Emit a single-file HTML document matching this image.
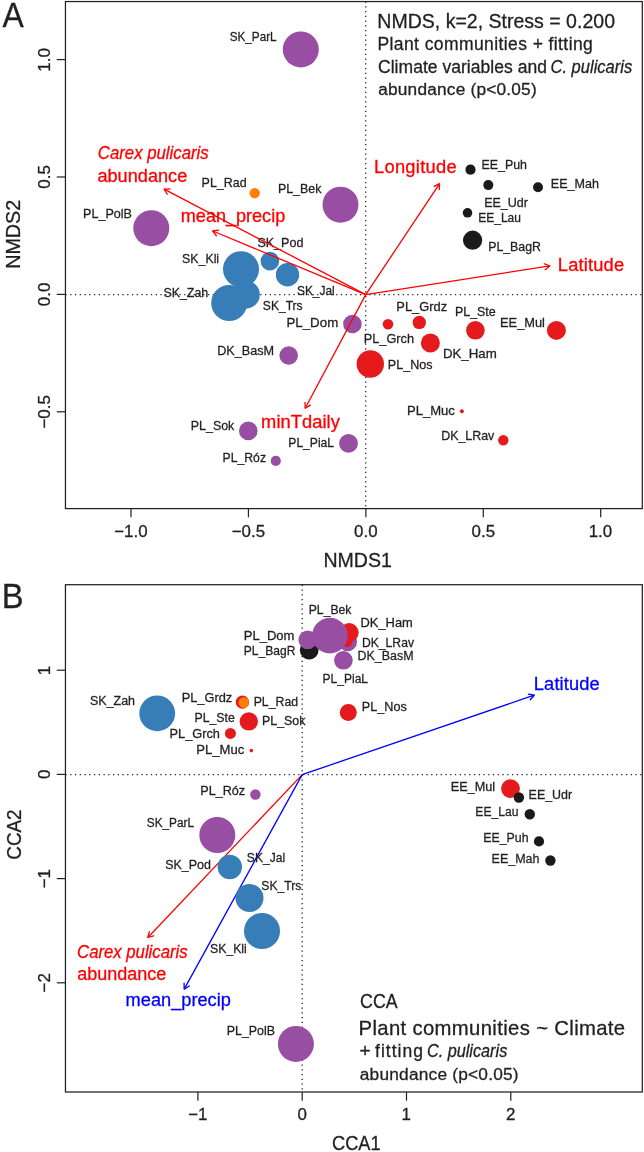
<!DOCTYPE html>
<html><head><meta charset="utf-8"><style>
html,body{margin:0;padding:0;background:#fff;}
svg{display:block;will-change:transform;}
text{font-family:"Liberation Sans",sans-serif;stroke-width:0.3px;}
</style></head><body>
<svg width="644" height="1152" viewBox="0 0 644 1152">
<rect width="644" height="1152" fill="#fff"/>
<line x1="365.7" y1="1.55" x2="365.7" y2="508.6" stroke="#222" stroke-width="1.3" stroke-dasharray="1.25 3.5"/>
<line x1="65.45" y1="294.6" x2="642.3" y2="294.6" stroke="#222" stroke-width="1.3" stroke-dasharray="1.25 3.5"/>
<circle cx="300.8" cy="49.4" r="18" fill="#984ea3"/>
<circle cx="254.7" cy="193.1" r="5.2" fill="#ff7f00"/>
<circle cx="340.5" cy="204.7" r="18" fill="#984ea3"/>
<circle cx="151.3" cy="228.2" r="18" fill="#984ea3"/>
<circle cx="245.8" cy="294.7" r="14" fill="#377eb8"/>
<circle cx="241.0" cy="269.2" r="18" fill="#377eb8"/>
<circle cx="229.2" cy="303.0" r="18" fill="#377eb8"/>
<circle cx="269.9" cy="261.1" r="9.3" fill="#377eb8"/>
<circle cx="287.5" cy="274.8" r="11.7" fill="#377eb8"/>
<circle cx="352.4" cy="324.0" r="9.3" fill="#984ea3"/>
<circle cx="288.7" cy="355.5" r="9.3" fill="#984ea3"/>
<circle cx="388.0" cy="324.3" r="5.3" fill="#e41a1c"/>
<circle cx="419.3" cy="322.4" r="6.7" fill="#e41a1c"/>
<circle cx="475.4" cy="330.3" r="9.3" fill="#e41a1c"/>
<circle cx="556.4" cy="330.4" r="9.5" fill="#e41a1c"/>
<circle cx="430.4" cy="343.0" r="9.5" fill="#e41a1c"/>
<circle cx="370.3" cy="364.0" r="13.7" fill="#e41a1c"/>
<circle cx="461.9" cy="411.2" r="2.0" fill="#e41a1c"/>
<circle cx="503.3" cy="440.3" r="5.2" fill="#e41a1c"/>
<circle cx="248.3" cy="430.9" r="9.3" fill="#984ea3"/>
<circle cx="348.5" cy="443.4" r="9.4" fill="#984ea3"/>
<circle cx="275.8" cy="460.9" r="5.1" fill="#984ea3"/>
<circle cx="470.5" cy="169.7" r="5.1" fill="#1a1a1a"/>
<circle cx="488.3" cy="185.1" r="5.0" fill="#1a1a1a"/>
<circle cx="538.0" cy="187.2" r="5.0" fill="#1a1a1a"/>
<circle cx="467.5" cy="212.8" r="4.8" fill="#1a1a1a"/>
<circle cx="472.6" cy="240.2" r="9.6" fill="#1a1a1a"/>
<text transform="translate(229.66,41.40) scale(0.8702,1)" font-size="13.5" fill="#231f20" stroke="#231f20" stroke-width="0.3">SK_ParL</text>
<text transform="translate(201.58,187.40) scale(0.9249,1)" font-size="13.5" fill="#231f20" stroke="#231f20" stroke-width="0.3">PL_Rad</text>
<text transform="translate(277.88,193.00) scale(0.9205,1)" font-size="13.5" fill="#231f20" stroke="#231f20" stroke-width="0.3">PL_Bek</text>
<text transform="translate(83.07,218.20) scale(0.9309,1)" font-size="13.5" fill="#231f20" stroke="#231f20" stroke-width="0.3">PL_PolB</text>
<text transform="translate(257.42,246.80) scale(0.9280,1)" font-size="13.5" fill="#231f20" stroke="#231f20" stroke-width="0.3">SK_Pod</text>
<text transform="translate(182.03,262.60) scale(0.9157,1)" font-size="13.5" fill="#231f20" stroke="#231f20" stroke-width="0.3">SK_Kli</text>
<text transform="translate(163.43,296.80) scale(0.9196,1)" font-size="13.5" fill="#231f20" stroke="#231f20" stroke-width="0.3">SK_Zah</text>
<text transform="translate(296.95,295.20) scale(0.8823,1)" font-size="13.5" fill="#231f20" stroke="#231f20" stroke-width="0.3">SK_Jal</text>
<text transform="translate(262.84,310.10) scale(0.8942,1)" font-size="13.5" fill="#231f20" stroke="#231f20" stroke-width="0.3">SK_Trs</text>
<text transform="translate(286.41,326.90) scale(0.9873,1)" font-size="13.5" fill="#231f20" stroke="#231f20" stroke-width="0.3">PL_Dom</text>
<text transform="translate(217.16,354.80) scale(0.9392,1)" font-size="13.5" fill="#231f20" stroke="#231f20" stroke-width="0.3">DK_BasM</text>
<text transform="translate(396.34,310.50) scale(0.9536,1)" font-size="13.5" fill="#231f20" stroke="#231f20" stroke-width="0.3">PL_Grdz</text>
<text transform="translate(454.98,315.60) scale(0.9206,1)" font-size="13.5" fill="#231f20" stroke="#231f20" stroke-width="0.3">PL_Ste</text>
<text transform="translate(363.75,342.70) scale(0.9454,1)" font-size="13.5" fill="#231f20" stroke="#231f20" stroke-width="0.3">PL_Grch</text>
<text transform="translate(442.91,358.30) scale(0.9851,1)" font-size="13.5" fill="#231f20" stroke="#231f20" stroke-width="0.3">DK_Ham</text>
<text transform="translate(387.87,369.40) scale(0.9302,1)" font-size="13.5" fill="#231f20" stroke="#231f20" stroke-width="0.3">PL_Nos</text>
<text transform="translate(500.05,326.60) scale(0.9519,1)" font-size="13.5" fill="#231f20" stroke="#231f20" stroke-width="0.3">EE_Mul</text>
<text transform="translate(406.93,415.00) scale(0.9696,1)" font-size="13.5" fill="#231f20" stroke="#231f20" stroke-width="0.3">PL_Muc</text>
<text transform="translate(441.18,440.40) scale(0.9202,1)" font-size="13.5" fill="#231f20" stroke="#231f20" stroke-width="0.3">DK_LRav</text>
<text transform="translate(190.78,430.00) scale(0.9205,1)" font-size="13.5" fill="#231f20" stroke="#231f20" stroke-width="0.3">PL_Sok</text>
<text transform="translate(288.31,447.40) scale(0.8971,1)" font-size="13.5" fill="#231f20" stroke="#231f20" stroke-width="0.3">PL_PiaL</text>
<text transform="translate(222.50,462.00) scale(0.9059,1)" font-size="13.5" fill="#231f20" stroke="#231f20" stroke-width="0.3">PL_Róz</text>
<text transform="translate(481.48,169.10) scale(0.9186,1)" font-size="13.5" fill="#231f20" stroke="#231f20" stroke-width="0.3">EE_Puh</text>
<text transform="translate(484.18,206.80) scale(0.9254,1)" font-size="13.5" fill="#231f20" stroke="#231f20" stroke-width="0.3">EE_Udr</text>
<text transform="translate(550.77,188.00) scale(0.9314,1)" font-size="13.5" fill="#231f20" stroke="#231f20" stroke-width="0.3">EE_Mah</text>
<text transform="translate(478.21,221.80) scale(0.8906,1)" font-size="13.5" fill="#231f20" stroke="#231f20" stroke-width="0.3">EE_Lau</text>
<text transform="translate(488.19,251.00) scale(0.9134,1)" font-size="13.5" fill="#231f20" stroke="#231f20" stroke-width="0.3">PL_BagR</text>
<line x1="365.7" y1="294.6" x2="164.1" y2="189.2" stroke="#ff0000" stroke-width="1.3"/>
<polyline points="167.31,194.27 164.1,189.2 170.09,188.95" fill="none" stroke="#ff0000" stroke-width="1.3" stroke-linejoin="round" stroke-linecap="round"/>
<line x1="365.7" y1="294.6" x2="212.7" y2="231.0" stroke="#ff0000" stroke-width="1.3"/>
<polyline points="216.35,235.76 212.7,231.0 218.65,230.22" fill="none" stroke="#ff0000" stroke-width="1.3" stroke-linejoin="round" stroke-linecap="round"/>
<line x1="365.7" y1="294.6" x2="439.6" y2="183.7" stroke="#ff0000" stroke-width="1.3"/>
<polyline points="434.22,186.36 439.6,183.7 439.22,189.69" fill="none" stroke="#ff0000" stroke-width="1.3" stroke-linejoin="round" stroke-linecap="round"/>
<line x1="365.7" y1="294.6" x2="549.8" y2="265.9" stroke="#ff0000" stroke-width="1.3"/>
<polyline points="544.20,263.74 549.8,265.9 545.13,269.66" fill="none" stroke="#ff0000" stroke-width="1.3" stroke-linejoin="round" stroke-linecap="round"/>
<line x1="365.7" y1="294.6" x2="305.2" y2="408.3" stroke="#ff0000" stroke-width="1.3"/>
<polyline points="310.29,405.12 305.2,408.3 304.99,402.30" fill="none" stroke="#ff0000" stroke-width="1.3" stroke-linejoin="round" stroke-linecap="round"/>
<text transform="translate(97.79,159.00) scale(0.9166,1)" font-size="18.3" fill="#ff0000" stroke="#ff0000" stroke-width="0.05" font-style="italic">Carex pulicaris</text>
<text transform="translate(97.44,181.70) scale(0.9920,1)" font-size="18.3" fill="#ff0000" stroke="#ff0000" stroke-width="0.05">abundance</text>
<text transform="translate(180.81,222.20) scale(0.9872,1)" font-size="18.3" fill="#ff0000" stroke="#ff0000" stroke-width="0.05">mean_precip</text>
<text x="374.00" y="172.70" font-size="18.3" letter-spacing="0.279" fill="#ff0000" stroke="#ff0000" stroke-width="0.05">Longitude</text>
<text x="557.80" y="271.40" font-size="18.3" letter-spacing="0.171" fill="#ff0000" stroke="#ff0000" stroke-width="0.05">Latitude</text>
<text x="261.09" y="428.10" font-size="18.3" letter-spacing="0.070" fill="#ff0000" stroke="#ff0000" stroke-width="0.05">minTdaily</text>
<text transform="translate(377.30,27.50) scale(0.9309,1)" font-size="21.0" fill="#231f20" stroke="#231f20" stroke-width="0.05">NMDS, k=2, Stress = 0.200</text>
<text x="377.46" y="50.10" font-size="17.5" letter-spacing="0.408" fill="#231f20" stroke="#231f20" stroke-width="0.05">Plant communities + fitting</text>
<text x="378.02" y="72.70" font-size="17.5" letter-spacing="0.031" fill="#231f20" stroke="#231f20" stroke-width="0.05">Climate variables and</text>
<text transform="translate(550.51,72.70) scale(0.9442,1)" font-size="17.5" fill="#231f20" stroke="#231f20" stroke-width="0.05" font-style="italic">C. pulicaris</text>
<text x="378.17" y="95.30" font-size="17.3" letter-spacing="0.197" fill="#231f20" stroke="#231f20" stroke-width="0.05">abundance (p&lt;0.05)</text>
<rect x="65.45" y="1.55" width="576.8499999999999" height="507.05" fill="none" stroke="#231f20" stroke-width="1.25"/>
<line x1="131.00000000000003" y1="508.6" x2="131.00000000000003" y2="517.2" stroke="#231f20" stroke-width="1.2"/>
<text x="114.22" y="537.20" font-size="16.9" letter-spacing="0.000" fill="#231f20" stroke="#231f20" stroke-width="0">−1.0</text>
<line x1="248.425" y1="508.6" x2="248.425" y2="517.2" stroke="#231f20" stroke-width="1.2"/>
<text transform="translate(231.68,537.20) scale(1.0000,1)" font-size="16.9" fill="#231f20" stroke="#231f20" stroke-width="0">−0.5</text>
<line x1="365.85" y1="508.6" x2="365.85" y2="517.2" stroke="#231f20" stroke-width="1.2"/>
<text transform="translate(354.10,537.20) scale(1.0000,1)" font-size="16.9" fill="#231f20" stroke="#231f20" stroke-width="0">0.0</text>
<line x1="483.27500000000003" y1="508.6" x2="483.27500000000003" y2="517.2" stroke="#231f20" stroke-width="1.2"/>
<text x="471.56" y="537.20" font-size="16.9" letter-spacing="0.000" fill="#231f20" stroke="#231f20" stroke-width="0">0.5</text>
<line x1="600.7" y1="508.6" x2="600.7" y2="517.2" stroke="#231f20" stroke-width="1.2"/>
<text transform="translate(588.63,537.20) scale(1.0000,1)" font-size="16.9" fill="#231f20" stroke="#231f20" stroke-width="0">1.0</text>
<line x1="56.8" y1="411.79999999999995" x2="65.45" y2="411.79999999999995" stroke="#231f20" stroke-width="1.2"/>
<text transform="translate(49.50,428.55) rotate(-90) scale(1.0000,1)" font-size="16.9" fill="#231f20" stroke="#231f20" stroke-width="0">−0.5</text>
<line x1="56.8" y1="294.4" x2="65.45" y2="294.4" stroke="#231f20" stroke-width="1.2"/>
<text transform="translate(49.50,306.15) rotate(-90) scale(1.0000,1)" font-size="16.9" fill="#231f20" stroke="#231f20" stroke-width="0">0.0</text>
<line x1="56.8" y1="176.99999999999997" x2="65.45" y2="176.99999999999997" stroke="#231f20" stroke-width="1.2"/>
<text transform="translate(49.50,188.71) rotate(-90) scale(1.0000,1)" font-size="16.9" fill="#231f20" stroke="#231f20" stroke-width="0">0.5</text>
<line x1="56.8" y1="59.599999999999966" x2="65.45" y2="59.599999999999966" stroke="#231f20" stroke-width="1.2"/>
<text transform="translate(49.50,71.67) rotate(-90) scale(1.0000,1)" font-size="16.9" fill="#231f20" stroke="#231f20" stroke-width="0">1.0</text>
<text transform="translate(323.40,566.50) scale(0.9539,1)" font-size="20.5" fill="#231f20" stroke="#231f20" stroke-width="0.05">NMDS1</text>
<text transform="translate(19.50,268.82) rotate(-90) scale(0.9617,1)" font-size="20.5" fill="#231f20" stroke="#231f20" stroke-width="0.05">NMDS2</text>
<text transform="translate(2.44,26.60) scale(0.9107,1)" font-size="35" fill="#231f20" stroke="#231f20" stroke-width="0.05">A</text>
<line x1="302.2" y1="584.7" x2="302.2" y2="1092.0" stroke="#222" stroke-width="1.3" stroke-dasharray="1.25 3.5"/>
<line x1="65.45" y1="774.6" x2="642.3" y2="774.6" stroke="#222" stroke-width="1.3" stroke-dasharray="1.25 3.5"/>
<line x1="302.2" y1="774.6" x2="534.2" y2="695.2" stroke="#0000ff" stroke-width="1.3"/>
<polyline points="528.31,694.04 534.2,695.2 530.26,699.72" fill="none" stroke="#0000ff" stroke-width="1.3" stroke-linejoin="round" stroke-linecap="round"/>
<line x1="302.2" y1="774.6" x2="147.9" y2="937.5" stroke="#ff0000" stroke-width="1.3"/>
<polyline points="153.65,935.79 147.9,937.5 149.30,931.66" fill="none" stroke="#ff0000" stroke-width="1.3" stroke-linejoin="round" stroke-linecap="round"/>
<line x1="302.2" y1="774.6" x2="184.2" y2="989.1" stroke="#0000ff" stroke-width="1.3"/>
<polyline points="189.33,985.99 184.2,989.1 184.08,983.10" fill="none" stroke="#0000ff" stroke-width="1.3" stroke-linejoin="round" stroke-linecap="round"/>
<circle cx="309.2" cy="650.0" r="9.4" fill="#1a1a1a"/>
<circle cx="347.7" cy="642.0" r="9.3" fill="#984ea3"/>
<circle cx="349.2" cy="632.6" r="9.5" fill="#e41a1c"/>
<circle cx="347.0" cy="641.8" r="5.3" fill="#e41a1c"/>
<circle cx="307.7" cy="639.8" r="9.3" fill="#984ea3"/>
<circle cx="329.9" cy="635.6" r="17.8" fill="#984ea3"/>
<circle cx="343.4" cy="660.3" r="9.3" fill="#984ea3"/>
<circle cx="157.2" cy="713.3" r="17.9" fill="#377eb8"/>
<circle cx="242.4" cy="702.2" r="6.6" fill="#e41a1c"/>
<circle cx="243.7" cy="702.6" r="5.3" fill="#ff7f00"/>
<circle cx="248.8" cy="721.4" r="9.2" fill="#e41a1c"/>
<circle cx="230.4" cy="733.4" r="5.5" fill="#e41a1c"/>
<circle cx="251.3" cy="750.6" r="1.8" fill="#e41a1c"/>
<circle cx="348.3" cy="712.4" r="8.5" fill="#e41a1c"/>
<circle cx="510.5" cy="788.6" r="9.4" fill="#e41a1c"/>
<circle cx="518.9" cy="797.5" r="5.2" fill="#1a1a1a"/>
<circle cx="529.8" cy="814.3" r="5.2" fill="#1a1a1a"/>
<circle cx="539.0" cy="841.4" r="5.1" fill="#1a1a1a"/>
<circle cx="550.4" cy="860.5" r="5.2" fill="#1a1a1a"/>
<circle cx="255.4" cy="794.5" r="5.2" fill="#984ea3"/>
<circle cx="217.3" cy="835.0" r="18.0" fill="#984ea3"/>
<circle cx="229.8" cy="867.0" r="12.2" fill="#377eb8"/>
<circle cx="249.5" cy="898.0" r="14.0" fill="#377eb8"/>
<circle cx="262.0" cy="931.0" r="18.0" fill="#377eb8"/>
<circle cx="295.9" cy="1043.9" r="18.0" fill="#984ea3"/>
<text transform="translate(308.70,614.20) scale(0.9053,1)" font-size="13.5" fill="#231f20" stroke="#231f20" stroke-width="0.3">PL_Bek</text>
<text transform="translate(360.54,626.90) scale(0.9548,1)" font-size="13.5" fill="#231f20" stroke="#231f20" stroke-width="0.3">DK_Ham</text>
<text transform="translate(243.73,640.00) scale(0.9675,1)" font-size="13.5" fill="#231f20" stroke="#231f20" stroke-width="0.3">PL_Dom</text>
<text transform="translate(243.81,654.80) scale(0.8938,1)" font-size="13.5" fill="#231f20" stroke="#231f20" stroke-width="0.3">PL_BagR</text>
<text transform="translate(362.00,646.50) scale(0.9008,1)" font-size="13.5" fill="#231f20" stroke="#231f20" stroke-width="0.3">DK_LRav</text>
<text transform="translate(357.48,660.00) scale(0.9238,1)" font-size="13.5" fill="#231f20" stroke="#231f20" stroke-width="0.3">DK_BasM</text>
<text transform="translate(322.62,683.20) scale(0.8891,1)" font-size="13.5" fill="#231f20" stroke="#231f20" stroke-width="0.3">PL_PiaL</text>
<text transform="translate(90.03,705.30) scale(0.9238,1)" font-size="13.5" fill="#231f20" stroke="#231f20" stroke-width="0.3">SK_Zah</text>
<text transform="translate(181.65,701.80) scale(0.9497,1)" font-size="13.5" fill="#231f20" stroke="#231f20" stroke-width="0.3">PL_Grdz</text>
<text transform="translate(253.69,706.30) scale(0.9099,1)" font-size="13.5" fill="#231f20" stroke="#231f20" stroke-width="0.3">PL_Rad</text>
<text transform="translate(194.49,722.00) scale(0.9112,1)" font-size="13.5" fill="#231f20" stroke="#231f20" stroke-width="0.3">PL_Ste</text>
<text transform="translate(262.09,725.00) scale(0.9162,1)" font-size="13.5" fill="#231f20" stroke="#231f20" stroke-width="0.3">PL_Sok</text>
<text transform="translate(169.55,738.40) scale(0.9454,1)" font-size="13.5" fill="#231f20" stroke="#231f20" stroke-width="0.3">PL_Grch</text>
<text transform="translate(196.33,754.00) scale(0.9696,1)" font-size="13.5" fill="#231f20" stroke="#231f20" stroke-width="0.3">PL_Muc</text>
<text transform="translate(361.86,711.10) scale(0.9367,1)" font-size="13.5" fill="#231f20" stroke="#231f20" stroke-width="0.3">PL_Nos</text>
<text transform="translate(450.76,790.90) scale(0.9386,1)" font-size="13.5" fill="#231f20" stroke="#231f20" stroke-width="0.3">EE_Mul</text>
<text transform="translate(528.58,798.90) scale(0.9232,1)" font-size="13.5" fill="#231f20" stroke="#231f20" stroke-width="0.3">EE_Udr</text>
<text transform="translate(475.31,816.30) scale(0.8971,1)" font-size="13.5" fill="#231f20" stroke="#231f20" stroke-width="0.3">EE_Lau</text>
<text transform="translate(483.29,842.40) scale(0.9144,1)" font-size="13.5" fill="#231f20" stroke="#231f20" stroke-width="0.3">EE_Puh</text>
<text transform="translate(491.58,863.00) scale(0.9254,1)" font-size="13.5" fill="#231f20" stroke="#231f20" stroke-width="0.3">EE_Mah</text>
<text transform="translate(200.26,794.60) scale(0.9362,1)" font-size="13.5" fill="#231f20" stroke="#231f20" stroke-width="0.3">PL_Róz</text>
<text transform="translate(146.76,826.70) scale(0.8759,1)" font-size="13.5" fill="#231f20" stroke="#231f20" stroke-width="0.3">SK_ParL</text>
<text transform="translate(246.84,861.70) scale(0.8944,1)" font-size="13.5" fill="#231f20" stroke="#231f20" stroke-width="0.3">SK_Jal</text>
<text transform="translate(165.23,869.20) scale(0.9238,1)" font-size="13.5" fill="#231f20" stroke="#231f20" stroke-width="0.3">SK_Pod</text>
<text transform="translate(261.34,889.60) scale(0.9012,1)" font-size="13.5" fill="#231f20" stroke="#231f20" stroke-width="0.3">SK_Trs</text>
<text transform="translate(209.93,953.10) scale(0.9105,1)" font-size="13.5" fill="#231f20" stroke="#231f20" stroke-width="0.3">SK_Kli</text>
<text transform="translate(226.78,1035.10) scale(0.9171,1)" font-size="13.5" fill="#231f20" stroke="#231f20" stroke-width="0.3">PL_PolB</text>
<text x="533.80" y="689.80" font-size="18.3" letter-spacing="0.128" fill="#0000ff" stroke="#0000ff" stroke-width="0.05">Latitude</text>
<text transform="translate(77.10,958.40) scale(0.9133,1)" font-size="18.3" fill="#ff0000" stroke="#ff0000" stroke-width="0.05" font-style="italic">Carex pulicaris</text>
<text transform="translate(77.24,980.10) scale(0.9841,1)" font-size="18.3" fill="#ff0000" stroke="#ff0000" stroke-width="0.05">abundance</text>
<text transform="translate(125.60,1005.60) scale(0.9958,1)" font-size="18.3" fill="#0000ff" stroke="#0000ff" stroke-width="0.05">mean_precip</text>
<text transform="translate(360.11,1007.60) scale(0.8699,1)" font-size="20.5" fill="#231f20" stroke="#231f20" stroke-width="0.05">CCA</text>
<text x="358.54" y="1034.60" font-size="20.3" letter-spacing="0.348" fill="#231f20" stroke="#231f20" stroke-width="0.05">Plant communities ~ Climate</text>
<text transform="translate(359.48,1057.00) scale(1.0935,1)" font-size="17.5" fill="#231f20" stroke="#231f20" stroke-width="0.05">+</text>
<text x="375.06" y="1057.10" font-size="17.5" letter-spacing="1.023" fill="#231f20" stroke="#231f20" stroke-width="0.05">fitting</text>
<text transform="translate(426.92,1057.10) scale(0.9289,1)" font-size="17.5" fill="#231f20" stroke="#231f20" stroke-width="0.05" font-style="italic">C. pulicaris</text>
<text x="359.77" y="1079.80" font-size="17.3" letter-spacing="0.214" fill="#231f20" stroke="#231f20" stroke-width="0.05">abundance (p&lt;0.05)</text>
<rect x="65.45" y="584.7" width="576.8499999999999" height="507.29999999999995" fill="none" stroke="#231f20" stroke-width="1.25"/>
<line x1="197.89999999999998" y1="1092.0" x2="197.89999999999998" y2="1100.7" stroke="#231f20" stroke-width="1.2"/>
<text x="188.25" y="1120.20" font-size="16.9" letter-spacing="0.000" fill="#231f20" stroke="#231f20" stroke-width="0">−1</text>
<line x1="302.2" y1="1092.0" x2="302.2" y2="1100.7" stroke="#231f20" stroke-width="1.2"/>
<text transform="translate(297.50,1120.20) scale(1.0000,1)" font-size="16.9" fill="#231f20" stroke="#231f20" stroke-width="0">0</text>
<line x1="406.5" y1="1092.0" x2="406.5" y2="1100.7" stroke="#231f20" stroke-width="1.2"/>
<text transform="translate(401.57,1120.20) scale(1.0000,1)" font-size="16.9" fill="#231f20" stroke="#231f20" stroke-width="0">1</text>
<line x1="510.79999999999995" y1="1092.0" x2="510.79999999999995" y2="1100.7" stroke="#231f20" stroke-width="1.2"/>
<text transform="translate(506.10,1120.20) scale(1.0000,1)" font-size="16.9" fill="#231f20" stroke="#231f20" stroke-width="0">2</text>
<line x1="56.8" y1="670.1999999999999" x2="65.45" y2="670.1999999999999" stroke="#231f20" stroke-width="1.2"/>
<text transform="translate(50.00,675.13) rotate(-90) scale(1.0000,1)" font-size="16.9" fill="#231f20" stroke="#231f20" stroke-width="0">1</text>
<line x1="56.8" y1="774.4" x2="65.45" y2="774.4" stroke="#231f20" stroke-width="1.2"/>
<text transform="translate(50.00,779.10) rotate(-90) scale(1.0000,1)" font-size="16.9" fill="#231f20" stroke="#231f20" stroke-width="0">0</text>
<line x1="56.8" y1="878.6" x2="65.45" y2="878.6" stroke="#231f20" stroke-width="1.2"/>
<text transform="translate(50.00,888.25) rotate(-90) scale(1.0000,1)" font-size="16.9" fill="#231f20" stroke="#231f20" stroke-width="0">−1</text>
<line x1="56.8" y1="982.8" x2="65.45" y2="982.8" stroke="#231f20" stroke-width="1.2"/>
<text transform="translate(50.00,992.43) rotate(-90) scale(1.0000,1)" font-size="16.9" fill="#231f20" stroke="#231f20" stroke-width="0">−2</text>
<text transform="translate(331.99,1149.50) scale(0.8902,1)" font-size="20.5" fill="#231f20" stroke="#231f20" stroke-width="0.05">CCA1</text>
<text transform="translate(21.30,859.74) rotate(-90) scale(0.9213,1)" font-size="20.5" fill="#231f20" stroke="#231f20" stroke-width="0.05">CCA2</text>
<text transform="translate(1.82,607.70) scale(0.9345,1)" font-size="35" fill="#231f20" stroke="#231f20" stroke-width="0.05">B</text>
</svg>
</body></html>
